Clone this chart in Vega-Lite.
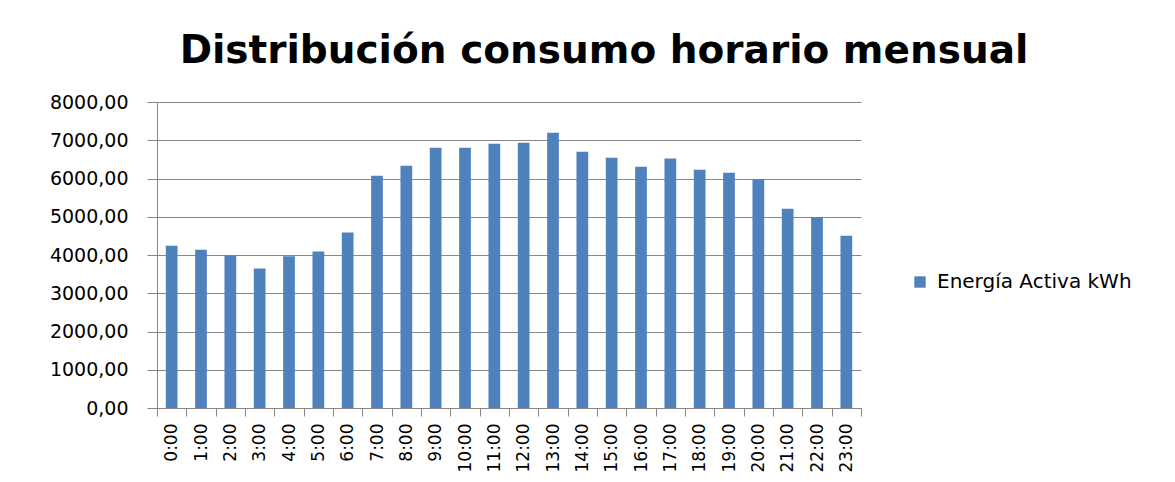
{
  "$schema": "https://vega.github.io/schema/vega-lite/v6.json",
  "autosize": {"type": "none"},
  "padding": {"left": 157, "top": 102, "right": 314, "bottom": 74},
  "width": 704,
  "height": 306,
  "background": "white",
  "title": {
    "text": "Distribución consumo horario mensual",
    "font": "DejaVu Sans",
    "fontSize": 39,
    "fontWeight": "bold",
    "color": "#000000",
    "anchor": "middle",
    "dx": 95,
    "dy": 39,
    "baseline": "alphabetic",
    "offset": 30
  },
  "data": {
    "values": [
      {"hora": "0:00", "kwh": 4245, "serie": "Energía Activa kWh"},
      {"hora": "1:00", "kwh": 4140, "serie": "Energía Activa kWh"},
      {"hora": "2:00", "kwh": 3990, "serie": "Energía Activa kWh"},
      {"hora": "3:00", "kwh": 3645, "serie": "Energía Activa kWh"},
      {"hora": "4:00", "kwh": 3970, "serie": "Energía Activa kWh"},
      {"hora": "5:00", "kwh": 4090, "serie": "Energía Activa kWh"},
      {"hora": "6:00", "kwh": 4590, "serie": "Energía Activa kWh"},
      {"hora": "7:00", "kwh": 6075, "serie": "Energía Activa kWh"},
      {"hora": "8:00", "kwh": 6335, "serie": "Energía Activa kWh"},
      {"hora": "9:00", "kwh": 6805, "serie": "Energía Activa kWh"},
      {"hora": "10:00", "kwh": 6805, "serie": "Energía Activa kWh"},
      {"hora": "11:00", "kwh": 6910, "serie": "Energía Activa kWh"},
      {"hora": "12:00", "kwh": 6935, "serie": "Energía Activa kWh"},
      {"hora": "13:00", "kwh": 7195, "serie": "Energía Activa kWh"},
      {"hora": "14:00", "kwh": 6700, "serie": "Energía Activa kWh"},
      {"hora": "15:00", "kwh": 6545, "serie": "Energía Activa kWh"},
      {"hora": "16:00", "kwh": 6310, "serie": "Energía Activa kWh"},
      {"hora": "17:00", "kwh": 6520, "serie": "Energía Activa kWh"},
      {"hora": "18:00", "kwh": 6230, "serie": "Energía Activa kWh"},
      {"hora": "19:00", "kwh": 6150, "serie": "Energía Activa kWh"},
      {"hora": "20:00", "kwh": 5990, "serie": "Energía Activa kWh"},
      {"hora": "21:00", "kwh": 5210, "serie": "Energía Activa kWh"},
      {"hora": "22:00", "kwh": 4985, "serie": "Energía Activa kWh"},
      {"hora": "23:00", "kwh": 4505, "serie": "Energía Activa kWh"}
    ]
  },
  "mark": {"type": "bar", "width": {"band": 0.4}},
  "encoding": {
    "x": {
      "field": "hora",
      "type": "nominal",
      "sort": null,
      "scale": {"paddingInner": 0, "paddingOuter": 0},
      "axis": {
        "title": null,
        "labelAngle": -90,
        "labelFont": "DejaVu Sans",
        "labelFontSize": 17,
        "labelColor": "#000000",
        "labelPadding": 7,
        "tickBand": "extent",
        "tickSize": 8,
        "tickColor": "#868686",
        "domainColor": "#868686",
        "grid": false
      }
    },
    "y": {
      "field": "kwh",
      "type": "quantitative",
      "scale": {"domain": [0, 8000], "nice": false},
      "axis": {
        "title": null,
        "values": [0, 1000, 2000, 3000, 4000, 5000, 6000, 7000, 8000],
        "labelExpr": "replace(format(datum.value, '.2f'), '.', ',')",
        "labelFont": "DejaVu Sans",
        "labelFontSize": 19,
        "labelColor": "#000000",
        "labelPadding": 19,
        "tickSize": 10,
        "tickColor": "#868686",
        "domainColor": "#868686",
        "gridColor": "#868686",
        "gridOpacity": 1
      }
    },
    "color": {
      "field": "serie",
      "type": "nominal",
      "scale": {"range": ["#4F81BD"]},
      "legend": {
        "title": null,
        "orient": "none",
        "legendX": 753,
        "legendY": 170,
        "symbolType": "square",
        "symbolSize": 130,
        "symbolStrokeWidth": 0,
        "labelFont": "DejaVu Sans",
        "labelFontSize": 20,
        "labelColor": "#000000",
        "labelOffset": 7,
        "labelLimit": 400
      }
    }
  },
  "config": {
    "view": {"stroke": null},
    "axis": {"domainWidth": 1, "tickWidth": 1, "gridWidth": 1}
  }
}
